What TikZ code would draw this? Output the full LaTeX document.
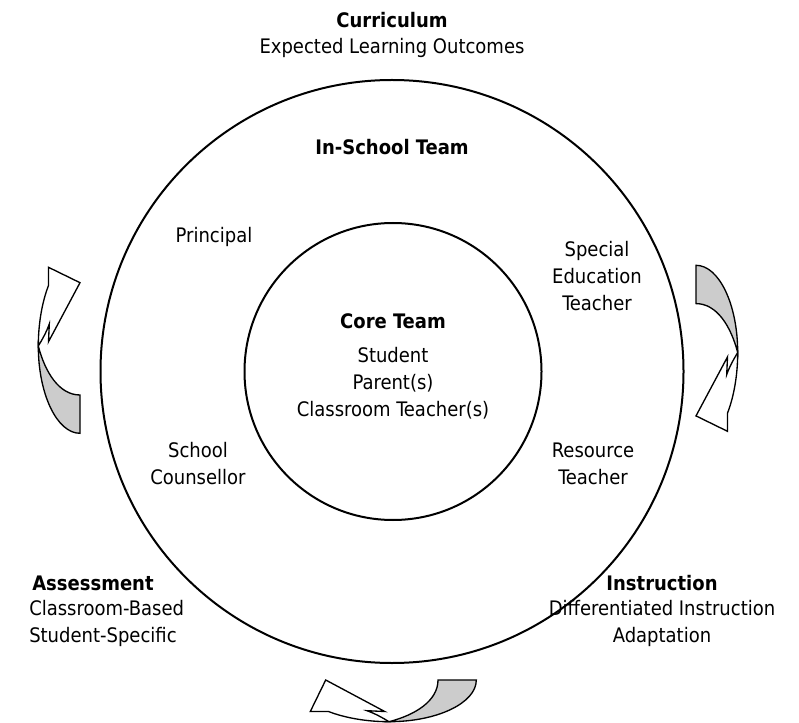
\documentclass[tikz,border=0pt]{standalone}
\usepackage{fontspec}
\setmainfont{DejaVu Sans Condensed}
\begin{document}
\begin{tikzpicture}[x=0.75pt,y=-0.75pt,
  ring/.style={draw, circle, line width=1.5pt, inner sep=0pt},
  lbl/.style={font=\fontsize{15}{20.25}\selectfont, align=center, inner sep=0pt},
  ttl/.style={font=\fontsize{15}{20.25}\selectfont\bfseries, align=center, inner sep=0pt},
  whitepart/.style={draw, fill=white, line width=1pt, line join=miter},
  graypart/.style={draw, fill=gray!40, line width=1pt},
  pics/cyclearrow/.style={code={
    \path[graypart] (-20.7,-4) .. controls (-14,22) and (0,45) .. (21,45)
      -- (21,83.3) .. controls (-2,83.3) and (-20.7,44.2) .. (-20.7,-4) -- cycle;
    \path[whitepart] (-20.7,-4) .. controls (-20.7,-26.6) and (-16.8,-48.3) .. (-10.5,-64.5)
      -- (-10.5,-82.7) -- (21,-67.3) -- (-10.5,-8.3) -- (-9.7,-26)
      .. controls (-12.5,-18) and (-17,-10) .. (-20.7,-4) -- cycle;
  }}
]
\path[use as bounding box] (0,0) rectangle (799,723);

\node[ring, minimum size=437.25pt] (outer) at (392,371.5) {};
\node[ring, minimum size=222.75pt] (inner) at (393,371.5) {};

\pic (arrL) at (59,350) {cyclearrow};
\pic[rotate=180] (arrR) at (717,348.6) {cyclearrow};
\pic[rotate=90] (arrB) at (393,701) {cyclearrow};

\node[ttl] (curr) at (392,20) {Curriculum};
\node[lbl] (currsub) at (392,48) {Expected Learning Outcomes};
\node[ttl] (inschool) at (392,147) {In-School Team};
\node[lbl] (principal) at (214,237) {Principal};
\node[lbl] (special) at (597,276) {Special\\Education\\Teacher};
\node[ttl] (core) at (393,321) {Core Team};
\node[lbl] (coresub) at (393,383) {Student\\Parent(s)\\Classroom Teacher(s)};
\node[lbl] (counsel) at (198,463.5) {School\\Counsellor};
\node[lbl] (resource) at (593,463.5) {Resource\\Teacher};
\node[ttl, anchor=west] (assess) at (32,583) {Assessment};
\node[lbl, align=left, anchor=north west] (assesssub) at (29,600) {Classroom-Based\\Student-Specific};
\node[ttl] (instr) at (662,583) {Instruction};
\node[lbl] (instrsub) at (662,623.5) {Differentiated Instruction\\Adaptation};
\end{tikzpicture}
\end{document}
